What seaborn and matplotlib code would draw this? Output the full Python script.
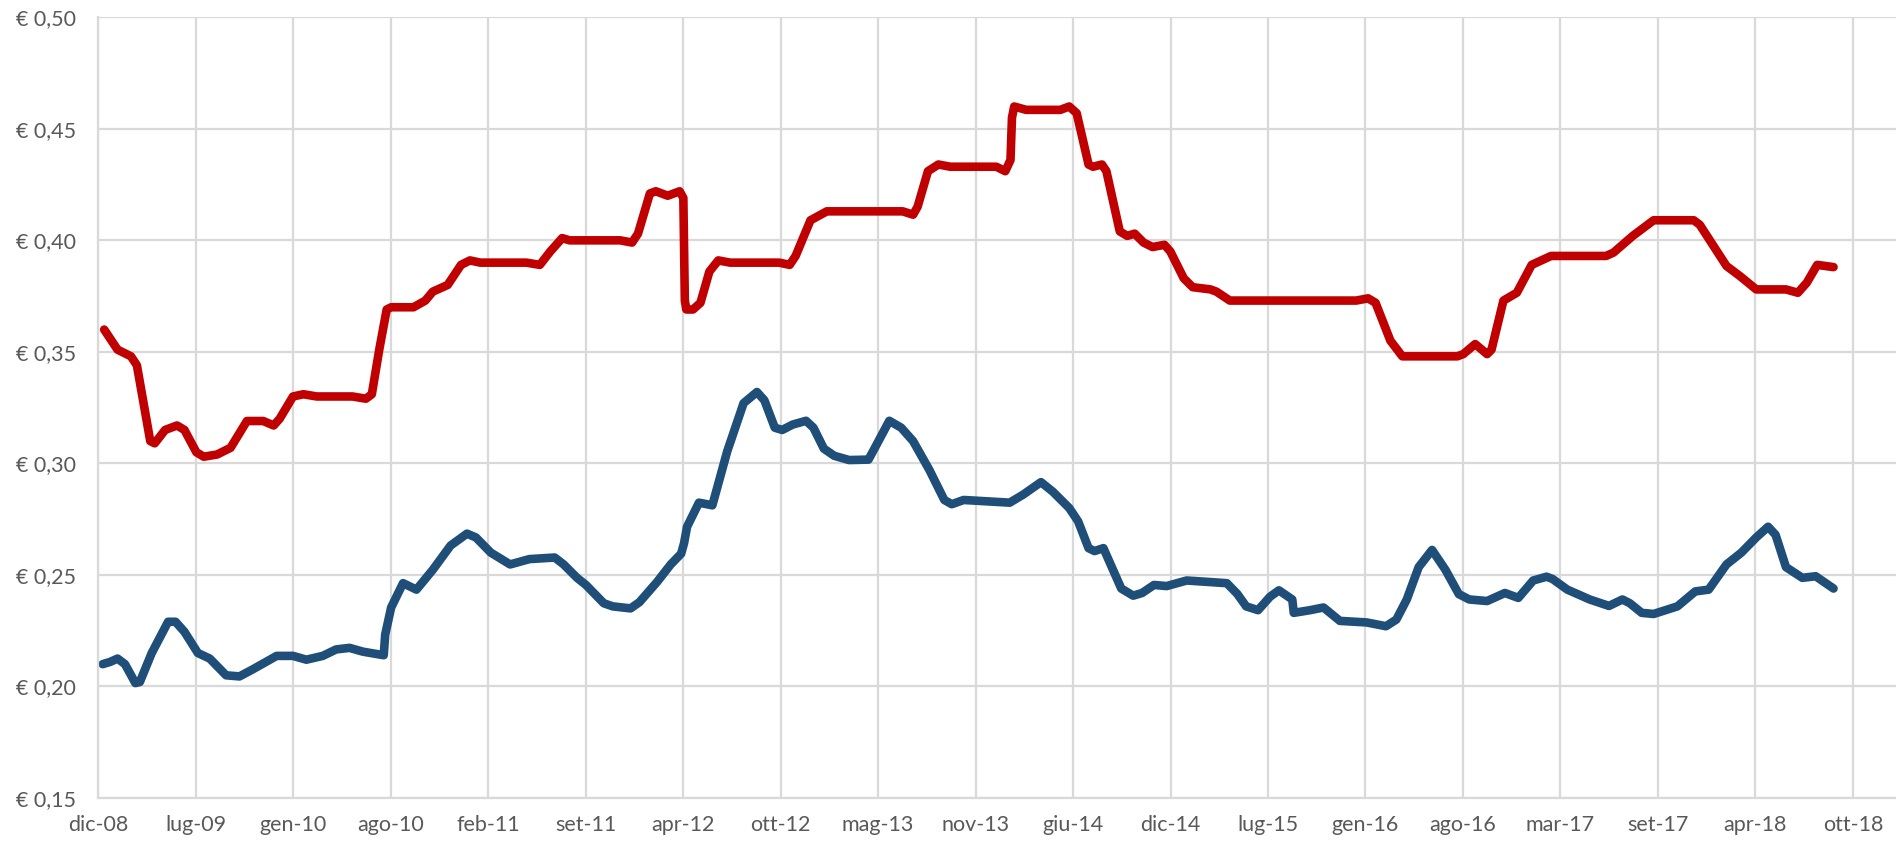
import numpy as np
import pandas as pd
import matplotlib
matplotlib.use("Agg")
import matplotlib.pyplot as plt
from matplotlib.ticker import FuncFormatter
import seaborn as sns

# x = months since dic-08, y = price in euro
rosso_mese = [0.4, 1.3, 2.2, 2.6, 3.5, 3.8, 4.5, 5.3, 5.8, 6.6, 7.1, 8.0, 8.9, 10.0, 11.1, 11.8,
              12.2, 13.1, 13.8, 14.7, 17.1, 18.0, 18.4, 18.9, 19.4, 19.7, 21.2, 22.0, 22.5, 23.5,
              24.4, 25.0, 25.7, 28.8, 29.7, 30.4, 31.2, 31.7, 35.1, 35.9, 36.3, 37.1, 37.5, 38.3,
              39.1, 39.35, 39.45, 39.55, 40.0, 40.5, 41.1, 41.7, 42.5, 45.8, 46.5, 46.9, 47.9,
              49.0, 54.1, 54.8, 55.1, 55.8, 56.5, 57.3, 60.4, 61.0, 61.35, 61.45, 61.6, 62.4,
              64.7, 65.3, 65.8, 66.6, 66.9, 67.5, 67.8, 68.7, 69.2, 69.7, 70.3, 70.9, 71.7, 72.1,
              73.0, 73.6, 74.8, 75.2, 76.1, 84.6, 85.4, 85.9, 86.9, 87.7, 91.4, 91.8, 92.6, 93.4,
              93.7, 94.5, 95.4, 96.4, 97.7, 101.4, 101.9, 103.2, 104.6, 107.3, 107.7, 109.5,
              110.4, 111.5, 113.5, 114.3, 114.9, 115.6, 116.7]
rosso_prezzo = [0.360, 0.351, 0.348, 0.344, 0.310, 0.309, 0.315, 0.317, 0.315, 0.305, 0.303, 0.304,
                0.307, 0.319, 0.319, 0.317, 0.320, 0.330, 0.331, 0.330, 0.330, 0.329, 0.331, 0.351,
                0.369, 0.370, 0.370, 0.373, 0.377, 0.380, 0.389, 0.391, 0.390, 0.390, 0.389, 0.395,
                0.401, 0.400, 0.400, 0.399, 0.403, 0.421, 0.422, 0.420, 0.422, 0.419, 0.373, 0.369,
                0.369, 0.372, 0.386, 0.391, 0.390, 0.390, 0.389, 0.393, 0.409, 0.413, 0.413, 0.4115,
                0.415, 0.431, 0.434, 0.433, 0.433, 0.431, 0.436, 0.455, 0.460, 0.4585, 0.4585, 0.460,
                0.457, 0.434, 0.433, 0.434, 0.431, 0.404, 0.402, 0.403, 0.399, 0.397, 0.398, 0.395,
                0.383, 0.379, 0.378, 0.377, 0.373, 0.373, 0.374, 0.372, 0.355, 0.348, 0.348, 0.349,
                0.3535, 0.349, 0.351, 0.373, 0.3765, 0.389, 0.393, 0.393, 0.3945, 0.402, 0.409,
                0.409, 0.407, 0.3885, 0.384, 0.378, 0.378, 0.3765, 0.381, 0.389, 0.388]

blu_mese = [0.3, 0.8, 1.3, 1.8, 2.5, 2.8, 3.6, 4.7, 5.2, 5.8, 6.7, 7.5, 8.6, 9.5, 10.4, 12.0, 13.1,
            14.0, 15.1, 16.0, 16.9, 17.8, 19.2, 19.3, 19.7, 20.5, 21.4, 22.5, 23.7, 24.8, 25.4,
            26.4, 27.7, 29.0, 30.7, 31.3, 32.2, 32.8, 34.0, 34.6, 35.8, 36.4, 37.6, 38.5, 39.2,
            39.4, 39.6, 40.4, 41.3, 42.3, 43.4, 44.3, 44.8, 45.5, 46.0, 46.7, 47.6, 48.1, 48.8,
            49.5, 50.5, 51.8, 52.2, 53.2, 54.0, 54.8, 55.9, 56.9, 57.4, 58.2, 61.3, 62.2, 63.4,
            64.2, 65.3, 65.9, 66.6, 67.0, 67.6, 68.0, 68.8, 69.6, 70.2, 71.0, 71.85, 73.2, 75.9,
            76.6, 77.2, 78.0, 78.8, 79.4, 80.3, 80.4, 81.5, 82.4, 83.5, 85.3, 86.6, 87.3, 88.0,
            88.8, 89.7, 90.6, 91.5, 92.2, 93.4, 94.6, 95.5, 96.5, 97.4, 97.8, 98.8, 100.3, 101.6,
            102.5, 103.0, 103.8, 104.6, 106.2, 107.4, 108.3, 109.5, 110.5, 111.5, 112.3, 112.8,
            113.5, 114.6, 115.5, 116.7]
blu_prezzo = [0.210, 0.211, 0.2125, 0.210, 0.2015, 0.202, 0.215, 0.229, 0.229, 0.2245, 0.215, 0.2125,
              0.205, 0.2045, 0.2077, 0.2137, 0.2137, 0.212, 0.2137, 0.2166, 0.2173, 0.2156, 0.214,
              0.2233, 0.2354, 0.2463, 0.2434, 0.2523, 0.2632, 0.2685, 0.2668, 0.2600, 0.2547,
              0.2571, 0.2578, 0.2547, 0.2487, 0.2455, 0.2373, 0.2359, 0.235, 0.2378, 0.247, 0.2547,
              0.2595, 0.2643, 0.2716, 0.2824, 0.2812, 0.3054, 0.327, 0.332, 0.3283, 0.316, 0.315,
              0.3174, 0.3191, 0.316, 0.3066, 0.3034, 0.3015, 0.3017, 0.3066, 0.3191, 0.316, 0.310,
              0.297, 0.2836, 0.2817, 0.2836, 0.2824, 0.286, 0.2916, 0.2873, 0.280, 0.274, 0.262,
              0.2607, 0.262, 0.256, 0.2439, 0.2407, 0.2419, 0.2455, 0.245, 0.2475, 0.2463, 0.2415,
              0.2359, 0.2342, 0.2402, 0.2431, 0.239, 0.233, 0.2342, 0.2354, 0.2294, 0.2287, 0.227,
              0.230, 0.239, 0.2535, 0.2612, 0.2523, 0.2414, 0.239, 0.2383, 0.2419, 0.2397, 0.2475,
              0.2492, 0.2482, 0.2434, 0.239, 0.2361, 0.239, 0.2373, 0.233, 0.2325, 0.2359, 0.2426,
              0.2434, 0.2547, 0.260, 0.2668, 0.2716, 0.268, 0.2535, 0.2487, 0.2494, 0.2439]

etichette_x = ["dic-08", "lug-09", "gen-10", "ago-10", "feb-11", "set-11", "apr-12", "ott-12",
               "mag-13", "nov-13", "giu-14", "dic-14", "lug-15", "gen-16", "ago-16", "mar-17",
               "set-17", "apr-18", "ott-18"]

df = pd.concat([
    pd.DataFrame({"mese": rosso_mese, "prezzo": rosso_prezzo, "serie": "rosso"}),
    pd.DataFrame({"mese": blu_mese, "prezzo": blu_prezzo, "serie": "blu"}),
], ignore_index=True)

sns.set_theme(style="whitegrid")
plt.rcParams['font.family'] = ['Lato', 'DejaVu Sans']

fig = plt.figure(figsize=(18.96, 8.43), dpi=100)
ax = fig.add_axes([0.0518, 0.0534, 1 - 0.0518, 0.9795 - 0.0534])

sns.lineplot(data=df, x="mese", y="prezzo", hue="serie", estimator=None, sort=False,
             palette={"rosso": "#C00000", "blu": "#1F4E79"}, linewidth=6.2,
             legend=False, ax=ax, solid_capstyle="round", solid_joinstyle="round")

ax.set_xlim(0, 120.9)
ax.set_ylim(0.15, 0.50)
ax.set_xticks(np.linspace(0, 118, len(etichette_x)))
ax.set_xticklabels(etichette_x)
ax.set_yticks(np.arange(0.15, 0.501, 0.05))
ax.yaxis.set_major_formatter(FuncFormatter(lambda v, p: ("€ %.2f" % v).replace(".", ",")))
ax.set_xlabel("")
ax.set_ylabel("")

ax.grid(True, color="#D9D9D9", linewidth=1.6)
for s in ["top", "right"]:
    ax.spines[s].set_visible(False)
for s in ["left", "bottom"]:
    ax.spines[s].set_color("#D9D9D9")
    ax.spines[s].set_linewidth(1.6)
ax.tick_params(axis="both", length=0, labelsize=15.5, colors="#595959")
ax.tick_params(axis="y", pad=16)
ax.tick_params(axis="x", pad=12)

fig.savefig("out.png", dpi=100)
